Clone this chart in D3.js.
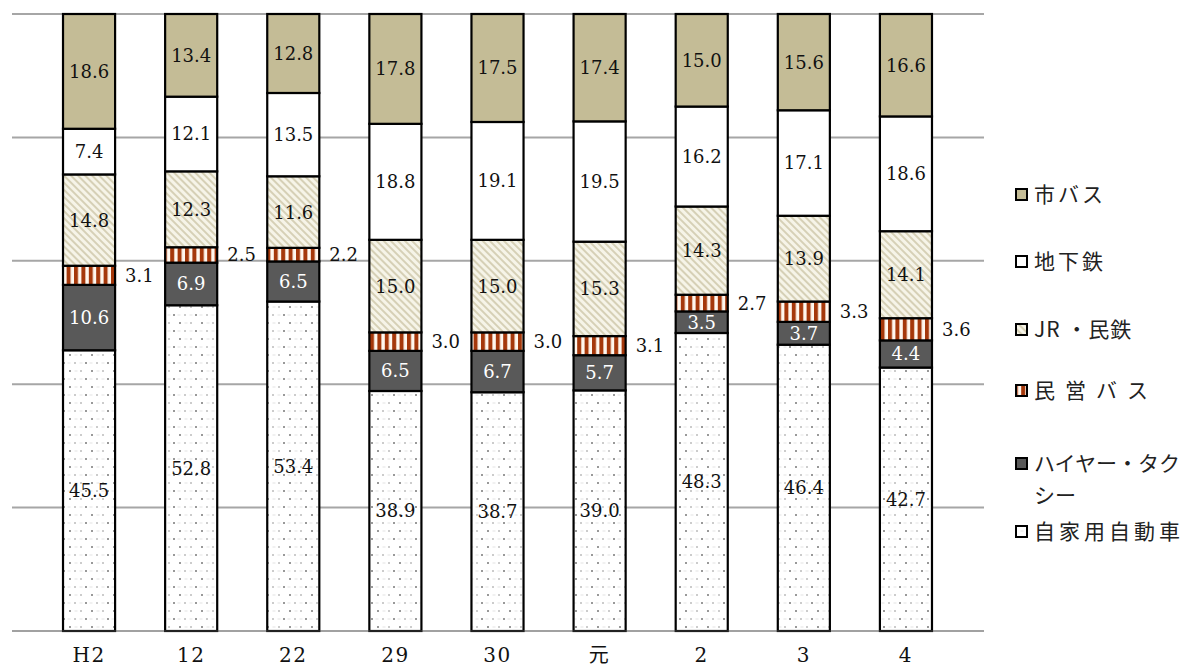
<!DOCTYPE html>
<html>
<head>
<meta charset="utf-8">
<script src="https://cdn.jsdelivr.net/npm/d3@7"></script>
<style>
  body { margin: 0; background: #fff; }
  svg { display: block; }
  text.num { font-family: DejaVu Serif, serif; }
  text.jp { font-family: Noto Sans CJK JP, sans-serif; }
</style>
</head>
<body>
<div id="chart"></div>
<script>
// years (x axis)
let years = ["H2", "12", "22", "29", "30", "元", "2", "3", "4"];

// series, bottom to top
let seriesNames = ["自家用自動車", "ハイヤー・タクシー", "民営バス", "JR・民鉄", "地下鉄", "市バス"];
let car     = [45.5, 52.8, 53.4, 38.9, 38.7, 39.0, 48.3, 46.4, 42.7];
let taxi    = [10.6, 6.9, 6.5, 6.5, 6.7, 5.7, 3.5, 3.7, 4.4];
let privBus = [3.1, 2.5, 2.2, 3.0, 3.0, 3.1, 2.7, 3.3, 3.6];
let jr      = [14.8, 12.3, 11.6, 15.0, 15.0, 15.3, 14.3, 13.9, 14.1];
let subway  = [7.4, 12.1, 13.5, 18.8, 19.1, 19.5, 16.2, 17.1, 18.6];
let cityBus = [18.6, 13.4, 12.8, 17.8, 17.5, 17.4, 15.0, 15.6, 16.6];
let yTicks = [0, 20, 40, 60, 80, 100];

let width = 1194,
    height = 671;

let svg = d3.select("#chart")
    .append("svg")
    .attr("width", width)
    .attr("height", height);

// patterns for the segment fills
let defs = svg.append("defs");

// JR: pale diagonal hatch
let pJr = defs.append("pattern")
    .attr("id", "p-jr")
    .attr("patternUnits", "userSpaceOnUse")
    .attr("width", 5).attr("height", 5)
    .attr("patternTransform", "rotate(-45)");
pJr.append("rect").attr("width", 5).attr("height", 5).attr("fill", "#f6f4e8");
pJr.append("rect").attr("width", 2).attr("height", 5).attr("fill", "#d6d0b6");

// private bus: vertical brown stripes
let pBus = defs.append("pattern")
    .attr("id", "p-bus")
    .attr("patternUnits", "userSpaceOnUse")
    .attr("width", 7.4).attr("height", 10);
pBus.append("rect").attr("width", 7.4).attr("height", 10).attr("fill", "#fff7ee");
pBus.append("rect").attr("width", 4).attr("height", 10).attr("fill", "#a5380b");

// car: sparse dots
let pCar = defs.append("pattern")
    .attr("id", "p-car")
    .attr("patternUnits", "userSpaceOnUse")
    .attr("width", 22).attr("height", 16);
pCar.append("rect").attr("width", 22).attr("height", 16).attr("fill", "#fff");
[[4, 3, "#777"], [15, 3, "#bbb"], [9, 11, "#bbb"], [20, 11, "#777"]].forEach(d => {
    pCar.append("circle").attr("cx", d[0]).attr("cy", d[1]).attr("r", 1).attr("fill", d[2]);
});
[[10, 3], [3, 11], [15, 11]].forEach(d => {
    pCar.append("rect").attr("x", d[0] - 1.5).attr("y", d[1] - 0.4).attr("width", 3).attr("height", 0.8).attr("fill", "#ddd");
});

let fills = ["url(#p-car)", "#595959", "url(#p-bus)", "url(#p-jr)", "#ffffff", "#c4bc96"];
let textColors = ["#111", "#fff", "#111", "#111", "#111", "#111"];

let x = d3.scaleBand()
    .domain(years)
    .range([38, 957])
    .paddingInner(0.49)
    .paddingOuter(0.245);

let y = d3.scaleLinear()
    .domain([0, 100])
    .range([631, 14]);

// gridlines
svg.append("g")
    .selectAll("line")
    .data(yTicks.filter(d => d > 0))
    .enter()
    .append("line")
    .attr("x1", 12).attr("x2", 984)
    .attr("y1", d => y(d)).attr("y2", d => y(d))
    .attr("stroke", "#a6a6a6")
    .attr("stroke-width", 2);

// stack data
let rows = years.map((yr, i) => {
    let r = { year: yr };
    [car, taxi, privBus, jr, subway, cityBus].forEach((s, k) => r[seriesNames[k]] = s[i]);
    return r;
});
let stacked = d3.stack().keys(seriesNames)(rows);

let layers = svg.append("g")
    .selectAll("g")
    .data(stacked)
    .enter()
    .append("g");

layers.selectAll("rect")
    .data((d, k) => d.map(p => ({ p: p, k: k })))
    .enter()
    .append("rect")
    .attr("x", d => x(d.p.data.year))
    .attr("y", d => y(d.p[1]))
    .attr("width", x.bandwidth())
    .attr("height", d => y(d.p[0]) - y(d.p[1]))
    .attr("fill", d => fills[d.k])
    .attr("stroke", "#000")
    .attr("stroke-width", 2.2);

// value labels (民営バス outside, to the right of the bar)
layers.selectAll("text")
    .data((d, k) => d.map(p => ({ p: p, k: k })))
    .enter()
    .append("text")
    .attr("class", "num")
    .attr("x", d => d.k == 2 ? x(d.p.data.year) + x.bandwidth() + 10 : x(d.p.data.year) + x.bandwidth() / 2)
    .attr("y", d => y((d.p[0] + d.p[1]) / 2))
    .attr("dy", "0.36em")
    .attr("text-anchor", d => d.k == 2 ? "start" : "middle")
    .attr("font-size", 18)
    .attr("fill", d => textColors[d.k])
    .text(d => (d.p[1] - d.p[0]).toFixed(1));

// x axis
let xAxis = svg.append("g")
    .attr("transform", `translate(0, ${y(0)})`)
    .call(d3.axisBottom(x).tickSize(0).tickPadding(17));
xAxis.select(".domain").remove();
xAxis.attr("font-family", null).attr("font-size", null);
xAxis.selectAll("text")
    .attr("class", d => d == "元" ? "jp" : "num")
    .attr("font-size", 20)
    .attr("letter-spacing", 1.5)
    .attr("fill", "#111");
svg.append("line")
    .attr("x1", 12).attr("x2", 984)
    .attr("y1", y(0)).attr("y2", y(0))
    .attr("stroke", "#444")
    .attr("stroke-width", 1.2);

// legend (top to bottom)
let legendItems = [
    { k: 5, lines: ["市バス"], y: 195, ls: 3 },
    { k: 4, lines: ["地下鉄"], y: 262, ls: 3 },
    { k: 3, lines: ["JR ・民鉄"], y: 330, ls: 1 },
    { k: 2, lines: ["民営バス"], y: 391, ls: 10 },
    { k: 1, lines: ["ハイヤー・タク", "シー"], y: 464, ls: 0 },
    { k: 0, lines: ["自家用自動車"], y: 532, ls: 4 }
];
let legend = svg.append("g");
legendItems.forEach(it => {
    let g = legend.append("g");
    g.append("rect")
        .attr("x", 1016).attr("y", it.y - 6)
        .attr("width", 11).attr("height", 11)
        .attr("fill", fills[it.k])
        .attr("stroke", "#000")
        .attr("stroke-width", 2);
    it.lines.forEach((t, j) => {
        g.append("text")
            .attr("class", "jp")
            .attr("x", 1034)
            .attr("y", it.y + j * 32)
            .attr("dy", "0.35em")
            .attr("font-size", 21)
            .attr("letter-spacing", it.ls)
            .attr("fill", "#222")
            .text(t);
    });
});
</script>
</body>
</html>
